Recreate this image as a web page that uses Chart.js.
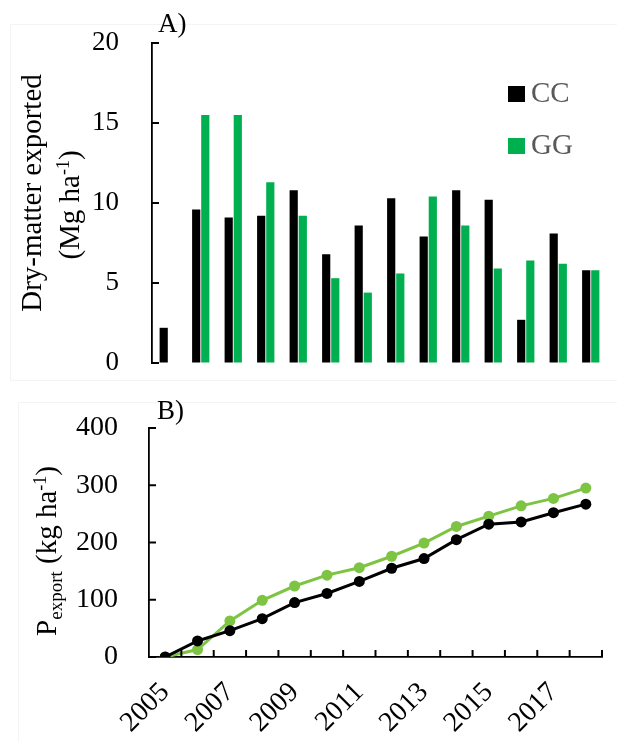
<!DOCTYPE html>
<html>
<head>
<meta charset="utf-8">
<script src="https://cdn.jsdelivr.net/npm/chart.js@4.4.0/dist/chart.umd.min.js"></script>
<style>
body { margin: 0; background: #fff; overflow: hidden; width: 617px; height: 742px; position: relative; }
canvas { position: absolute; left: 0; }
.frame { position: absolute; border: 1px solid #f4f4f4; }
</style>
</head>
<body>
<div class="frame" style="left:10px;top:24px;width:640px;height:355px"></div>
<div class="frame" style="left:18px;top:402px;width:640px;height:400px"></div>
<canvas id="chartA" width="617" height="380" style="top:0"></canvas>
<canvas id="chartB" width="617" height="362" style="top:380px"></canvas>
<script>
var years = ['2005', '2006', '2007', '2008', '2009', '2010', '2011', '2012', '2013', '2014', '2015', '2016', '2017', '2018'];
var seriesNames = ['CC', 'GG'];
// A) dry matter exported, Mg/ha
var dmCC = [2.2, 9.6, 9.1, 9.2, 10.8, 6.8, 8.6, 10.3, 7.9, 10.8, 10.2, 2.7, 8.1, 5.8];
var dmGG = [0, 15.5, 15.5, 11.3, 9.2, 5.3, 4.4, 5.6, 10.4, 8.6, 5.9, 6.4, 6.2, 5.8];
// B) cumulative P export, kg/ha
var pCC = [0, 28, 46, 67, 95, 111, 132, 155, 172, 205, 232, 236, 252, 267];
var pGG = [0, 13, 63, 99, 124, 143, 156, 176, 199, 228, 246, 264, 277, 295];
var yTicksA = [0, 5, 10, 15, 20];
var yTicksB = [0, 100, 200, 300, 400];

var serif = '"Liberation Serif", "Times New Roman", serif';
var clear = 'rgba(0,0,0,0)';

function drawRich(ctx, parts, cx, cy) {
    ctx.save();
    ctx.translate(cx, cy);
    ctx.rotate(-Math.PI / 2);
    ctx.textBaseline = 'alphabetic';
    ctx.fillStyle = '#000';
    var total = 0;
    parts.forEach(function (p) {
        ctx.font = p.size + 'px ' + serif;
        p.w = ctx.measureText(p.text).width;
        total += p.w;
    });
    var x = -total / 2;
    parts.forEach(function (p) {
        ctx.font = p.size + 'px ' + serif;
        ctx.fillText(p.text, x, p.dy || 0);
        x += p.w;
    });
    ctx.restore();
}

// tick marks pointing into the plot, like the original
function inwardTicks(withX) {
    return {
        id: 'inwardTicks',
        afterDraw: function (chart) {
            var ctx = chart.ctx, a = chart.chartArea, y = chart.scales.y;
            ctx.save();
            ctx.strokeStyle = '#000';
            ctx.lineWidth = 2;
            y.ticks.forEach(function (t) {
                var py = y.getPixelForValue(t.value);
                ctx.beginPath();
                ctx.moveTo(a.left, py);
                ctx.lineTo(a.left + 7, py);
                ctx.stroke();
            });
            if (withX) {
                var x = chart.scales.x, n = chart.data.labels.length;
                for (var i = 1; i <= n; i++) {
                    var px = i < n ? (x.getPixelForValue(i - 1) + x.getPixelForValue(i)) / 2 : a.right;
                    ctx.beginPath();
                    ctx.moveTo(px, a.bottom);
                    ctx.lineTo(px, a.bottom - 7);
                    ctx.stroke();
                }
            }
            ctx.restore();
        }
    };
}

var decorA = {
    id: 'decorA',
    afterDraw: function (chart) {
        var ctx = chart.ctx;
        ctx.save();
        ctx.fillStyle = '#000';
        ctx.font = '27px ' + serif;
        ctx.textBaseline = 'middle';
        ctx.fillText('A)', 158, 25);
        // legend
        chart.data.datasets.forEach(function (ds, i) {
            var cy = 94 + i * 52;
            ctx.fillStyle = ds.backgroundColor;
            ctx.fillRect(508, cy - 8, 17, 16);
            ctx.fillStyle = '#595959';
            ctx.font = '29px ' + serif;
            ctx.fillText(ds.label, 531, cy);
        });
        ctx.restore();
        drawRich(ctx, [{ text: 'Dry-matter exported', size: 29 }], 41, 193);
        drawRich(ctx, [
            { text: '(Mg ha', size: 29 },
            { text: '-1', size: 18, dy: -10 },
            { text: ')', size: 29 }
        ], 79, 205);
    }
};

var decorB = {
    id: 'decorB',
    afterDraw: function (chart) {
        var ctx = chart.ctx;
        ctx.save();
        ctx.fillStyle = '#000';
        ctx.font = '27px ' + serif;
        ctx.textBaseline = 'middle';
        ctx.fillText('B)', 157, 32);
        ctx.restore();
        drawRich(ctx, [
            { text: 'P', size: 29 },
            { text: 'export', size: 19, dy: 6 },
            { text: ' (kg ha', size: 29 },
            { text: '-1', size: 18, dy: -10 },
            { text: ')', size: 29 }
        ], 56, 171);
    }
};

var chartA = new Chart(document.getElementById('chartA').getContext('2d'), {
    type: 'bar',
    data: {
        labels: years,
        datasets: [{
            label: seriesNames[0],
            data: dmCC,
            backgroundColor: '#000000',
            borderWidth: 0,
            categoryPercentage: 0.56,
            barPercentage: 0.9
        }, {
            label: seriesNames[1],
            data: dmGG,
            backgroundColor: '#00b050',
            borderWidth: 0,
            categoryPercentage: 0.56,
            barPercentage: 0.9
        }]
    },
    options: {
        responsive: false,
        animation: false,
        events: [],
        layout: {
            padding: { left: 0, right: 10, top: 43, bottom: 17 }
        },
        plugins: {
            legend: { display: false },
            tooltip: { enabled: false }
        },
        scales: {
            x: { display: false },
            y: {
                min: yTicksA[0],
                max: yTicksA[yTicksA.length - 1],
                afterFit: function (s) { s.width = 152; },
                afterBuildTicks: function (s) { s.ticks = yTicksA.map(function (v) { return { value: v }; }); },
                grid: { drawOnChartArea: false, drawTicks: true, tickLength: 33, tickColor: clear },
                border: { display: true, color: '#000', width: 1.8 },
                ticks: { padding: 0, color: '#000', font: { family: serif, size: 27 } }
            }
        }
    },
    plugins: [inwardTicks(false), decorA]
});

var chartB = new Chart(document.getElementById('chartB').getContext('2d'), {
    type: 'line',
    data: {
        labels: years,
        datasets: [{
            label: seriesNames[0],
            data: pCC,
            borderColor: '#000000',
            backgroundColor: '#000000',
            borderWidth: 3,
            pointRadius: 5.5,
            pointBorderWidth: 0,
            tension: 0
        }, {
            label: seriesNames[1],
            data: pGG,
            borderColor: '#7dc443',
            backgroundColor: '#7dc443',
            borderWidth: 3,
            pointRadius: 5.5,
            pointBorderWidth: 0,
            tension: 0
        }]
    },
    options: {
        responsive: false,
        animation: false,
        events: [],
        layout: {
            padding: { left: 0, right: 15, top: 48, bottom: 0 }
        },
        plugins: {
            legend: { display: false },
            tooltip: { enabled: false }
        },
        scales: {
            x: {
                offset: true,
                afterFit: function (s) { s.height = 85; },
                grid: { drawOnChartArea: false, drawTicks: true, tickLength: 19, tickColor: clear, offset: true },
                border: { display: true, color: '#000', width: 1.8 },
                ticks: {
                    autoSkip: false,
                    maxRotation: 45,
                    minRotation: 45,
                    padding: 0,
                    color: '#000',
                    font: { family: serif, size: 28 },
                    callback: function (v, i) { return i % 2 === 0 ? years[i] : ''; }
                }
            },
            y: {
                min: yTicksB[0],
                max: yTicksB[yTicksB.length - 1],
                afterFit: function (s) { s.width = 149; },
                afterBuildTicks: function (s) { s.ticks = yTicksB.map(function (v) { return { value: v }; }); },
                grid: { drawOnChartArea: false, drawTicks: true, tickLength: 31, tickColor: clear },
                border: { display: true, color: '#000', width: 1.8 },
                ticks: { padding: 0, color: '#000', font: { family: serif, size: 28 } }
            }
        }
    },
    plugins: [inwardTicks(true), decorB]
});
</script>
</body>
</html>
